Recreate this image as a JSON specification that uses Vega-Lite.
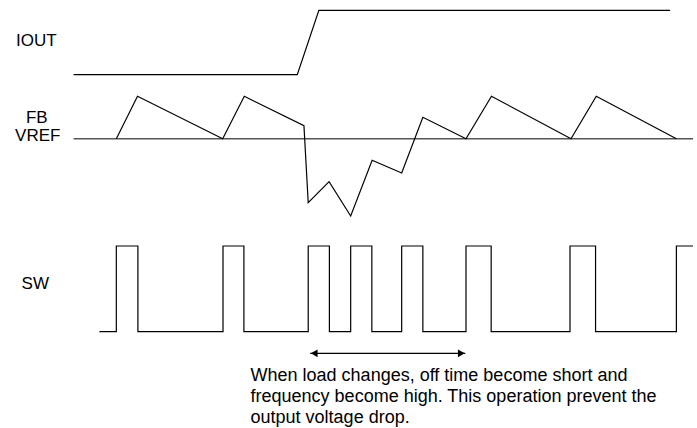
{
  "$schema": "https://vega.github.io/schema/vega-lite/v6.json",
  "width": 697,
  "height": 428,
  "autosize": {"type": "fit", "contains": "padding"},
  "padding": 0,
  "background": "white",
  "config": {"view": {"stroke": null}},
  "datasets": {
    "iout": [
      {"i": 0, "t": 74, "v": 74.7},
      {"i": 1, "t": 299, "v": 74.7},
      {"i": 2, "t": 320.7, "v": 10.3},
      {"i": 3, "t": 674, "v": 10.3}
    ],
    "vref": [
      {"i": 0, "t": 74, "v": 138.7},
      {"i": 1, "t": 697, "v": 138.7}
    ],
    "fb": [
      {"i": 0, "t": 117, "v": 138.7},
      {"i": 1, "t": 138.3, "v": 96.3},
      {"i": 2, "t": 224, "v": 138.7},
      {"i": 3, "t": 245.7, "v": 96.3},
      {"i": 4, "t": 305.7, "v": 125.7},
      {"i": 5, "t": 310, "v": 202.7},
      {"i": 6, "t": 331, "v": 181.7},
      {"i": 7, "t": 352.7, "v": 216},
      {"i": 8, "t": 374.3, "v": 160.3},
      {"i": 9, "t": 404, "v": 173},
      {"i": 10, "t": 425.3, "v": 117.3},
      {"i": 11, "t": 468.7, "v": 138.7},
      {"i": 12, "t": 494.3, "v": 96.3},
      {"i": 13, "t": 574.3, "v": 138.7},
      {"i": 14, "t": 599.7, "v": 96.3},
      {"i": 15, "t": 680.3, "v": 138.7}
    ],
    "sw": [
      {"i": 0, "t": 100, "v": 331.7},
      {"i": 1, "t": 117, "v": 331.7},
      {"i": 2, "t": 117, "v": 246},
      {"i": 3, "t": 138.7, "v": 246},
      {"i": 4, "t": 138.7, "v": 331.7},
      {"i": 5, "t": 224.3, "v": 331.7},
      {"i": 6, "t": 224.3, "v": 246},
      {"i": 7, "t": 245.3, "v": 246},
      {"i": 8, "t": 245.3, "v": 331.7},
      {"i": 9, "t": 310, "v": 331.7},
      {"i": 10, "t": 310, "v": 246},
      {"i": 11, "t": 331.3, "v": 246},
      {"i": 12, "t": 331.3, "v": 331.7},
      {"i": 13, "t": 352.7, "v": 331.7},
      {"i": 14, "t": 352.7, "v": 246},
      {"i": 15, "t": 374, "v": 246},
      {"i": 16, "t": 374, "v": 331.7},
      {"i": 17, "t": 404, "v": 331.7},
      {"i": 18, "t": 404, "v": 246},
      {"i": 19, "t": 425.3, "v": 246},
      {"i": 20, "t": 425.3, "v": 331.7},
      {"i": 21, "t": 468.7, "v": 331.7},
      {"i": 22, "t": 468.7, "v": 246},
      {"i": 23, "t": 494, "v": 246},
      {"i": 24, "t": 494, "v": 331.7},
      {"i": 25, "t": 573.3, "v": 331.7},
      {"i": 26, "t": 573.3, "v": 246},
      {"i": 27, "t": 599, "v": 246},
      {"i": 28, "t": 599, "v": 331.7},
      {"i": 29, "t": 680.3, "v": 331.7},
      {"i": 30, "t": 680.3, "v": 246},
      {"i": 31, "t": 697, "v": 246}
    ],
    "arrow": [
      {"i": 0, "t": 312, "v": 353.3},
      {"i": 1, "t": 468, "v": 353.3}
    ],
    "heads": [
      {"t": 312, "v": 353.3, "shape": "triangle-left"},
      {"t": 468, "v": 353.3, "shape": "triangle-right"}
    ],
    "labels": [
      {"label": "IOUT", "t": 36.5, "v": 41},
      {"label": "FB", "t": 37, "v": 117.5},
      {"label": "VREF", "t": 38, "v": 136},
      {"label": "SW", "t": 35.5, "v": 284}
    ],
    "note": [
      {"text": "When load changes, off time become short and\nfrequency become high. This operation prevent the\noutput voltage drop.", "t": 252, "v": 380.5}
    ]
  },
  "encoding": {
    "x": {"field": "t", "type": "quantitative", "scale": {"domain": [0, 697], "nice": false, "zero": false}, "axis": null},
    "y": {"field": "v", "type": "quantitative", "scale": {"domain": [0, 428], "nice": false, "zero": false, "reverse": true}, "axis": null}
  },
  "layer": [
    {"data": {"name": "vref"}, "mark": {"type": "line", "color": "#555555", "strokeWidth": 1.6}, "encoding": {"order": {"field": "i"}}},
    {"data": {"name": "iout"}, "mark": {"type": "line", "color": "#000000", "strokeWidth": 1.2}, "encoding": {"order": {"field": "i"}}},
    {"data": {"name": "fb"}, "mark": {"type": "line", "color": "#000000", "strokeWidth": 1.2}, "encoding": {"order": {"field": "i"}}},
    {"data": {"name": "sw"}, "mark": {"type": "line", "color": "#000000", "strokeWidth": 1.2}, "encoding": {"order": {"field": "i"}}},
    {"data": {"name": "arrow"}, "mark": {"type": "line", "color": "#000000", "strokeWidth": 1.2}, "encoding": {"order": {"field": "i"}}},
    {"data": {"name": "heads"}, "transform": [{"filter": "datum.shape == 'triangle-left'"}], "mark": {"type": "point", "shape": "triangle-left", "filled": true, "color": "#000000", "size": 60, "opacity": 1, "xOffset": 4}},
    {"data": {"name": "heads"}, "transform": [{"filter": "datum.shape == 'triangle-right'"}], "mark": {"type": "point", "shape": "triangle-right", "filled": true, "color": "#000000", "size": 60, "opacity": 1, "xOffset": -4}},
    {"data": {"name": "labels"}, "mark": {"type": "text", "font": "Liberation Sans", "fontSize": 17, "align": "center", "baseline": "middle", "color": "#000000"}, "encoding": {"text": {"field": "label"}}},
    {"data": {"name": "note"}, "mark": {"type": "text", "font": "Liberation Sans", "fontSize": 18, "align": "left", "baseline": "alphabetic", "lineBreak": "\n", "lineHeight": 21, "color": "#000000"}, "encoding": {"text": {"field": "text"}}}
  ]
}
